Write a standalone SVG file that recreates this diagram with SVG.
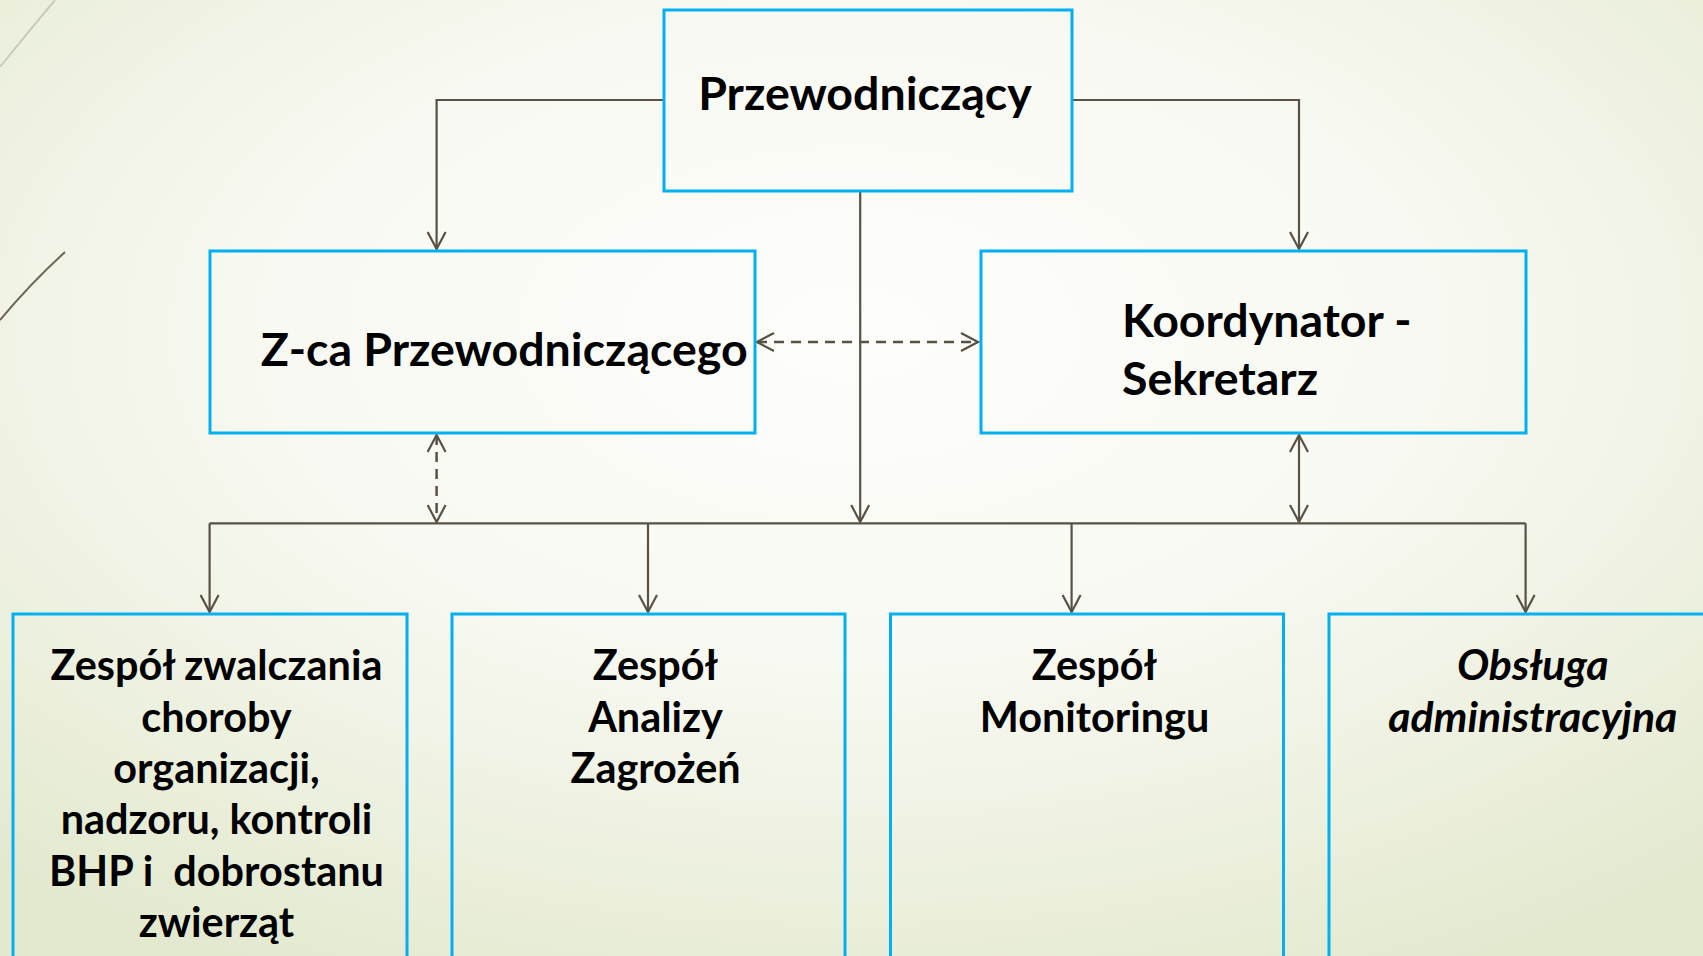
<svg xmlns="http://www.w3.org/2000/svg" width="1703" height="956" viewBox="0 0 1703 956">
  <defs>
    <radialGradient id="bg" cx="0.5" cy="0.35" r="0.75" gradientUnits="objectBoundingBox">
      <stop offset="0" stop-color="#fdfdfb"/>
      <stop offset="0.45" stop-color="#f8f9f2"/>
      <stop offset="1" stop-color="#e3e9cf"/>
    </radialGradient>
    <marker id="arr" viewBox="0 0 20 20" refX="18" refY="10" markerWidth="20" markerHeight="20" markerUnits="userSpaceOnUse" orient="auto-start-reverse">
      <path d="M1,1 L18,10 L1,19" fill="none" stroke="#595244" stroke-width="2.2"/>
    </marker>
    <style>
      .box { fill: none; stroke: #00b0f0; stroke-width: 3; }
      .con { fill: none; stroke: #595244; stroke-width: 2.2; }
      .dash { fill: none; stroke: #595244; stroke-width: 2.5; stroke-dasharray: 10 7; }
      .t { font-family: Lato, "Noto Sans", sans-serif; font-weight: bold; fill: #000; }
      .big { font-size: 46.5px; }
      .sm { font-size: 41.4px; }
      .c { text-anchor: middle; }
      .it { font-style: italic; font-size: 42.8px; }
    </style>
  </defs>
  <rect x="0" y="0" width="1703" height="956" fill="url(#bg)"/>
  <g id="decor">
    <path d="M55,0 Q28,32 0,67" fill="none" stroke="#c9cbbd" stroke-width="2"/>
    <path d="M65,252 Q30,284 0,320" fill="none" stroke="#6e6757" stroke-width="2"/>
  </g>

  <g id="connectors">
    <path class="con" d="M664,100 H436.6 V249" marker-end="url(#arr)"/>
    <path class="con" d="M1072,100 H1299 V249" marker-end="url(#arr)"/>
    <path class="con" d="M860.2,191 V522" marker-end="url(#arr)"/>
    <path class="dash" d="M757,342 H978" marker-start="url(#arr)" marker-end="url(#arr)"/>
    <path class="dash" d="M436.6,435 V522" marker-start="url(#arr)" marker-end="url(#arr)"/>
    <path class="con" d="M1299,435 V522" marker-start="url(#arr)" marker-end="url(#arr)"/>
    <path class="con" d="M209.6,523.3 H1525.6"/>
    <path class="con" d="M209.6,523.3 V612" marker-end="url(#arr)"/>
    <path class="con" d="M648,523.3 V612" marker-end="url(#arr)"/>
    <path class="con" d="M1071.6,523.3 V612" marker-end="url(#arr)"/>
    <path class="con" d="M1525.6,523.3 V612" marker-end="url(#arr)"/>
  </g>

  <g id="przewodniczacy">
    <rect class="box" x="664" y="10" width="408" height="181"/>
    <text class="t big c" x="865" y="110">Przewodniczący</text>
  </g>
  <g id="zca">
    <rect class="box" x="210" y="251" width="545" height="182"/>
    <text class="t big" x="260.7" y="365.5">Z-ca Przewodniczącego</text>
  </g>
  <g id="koordynator">
    <rect class="box" x="981" y="251" width="545" height="182"/>
    <text class="t big" x="1122" y="337">Koordynator -</text>
    <text class="t big" x="1122" y="395">Sekretarz</text>
  </g>
  <g id="zespol-zwalczania">
    <rect class="box" x="13" y="614" width="394" height="360"/>
    <text class="t sm c" x="216.5" y="680">Zespół zwalczania</text>
    <text class="t sm c" x="216.5" y="731.5">choroby</text>
    <text class="t sm c" x="216.5" y="783">organizacji,</text>
    <text class="t sm c" x="216.5" y="834">nadzoru, kontroli</text>
    <text class="t sm c" x="216.5" y="885.5" xml:space="preserve">BHP i  dobrostanu</text>
    <text class="t sm c" x="216.5" y="937">zwierząt</text>
  </g>
  <g id="zespol-analizy">
    <rect class="box" x="452" y="614" width="393" height="360"/>
    <text class="t sm c" x="655.5" y="680">Zespół</text>
    <text class="t sm c" x="655.5" y="731.5">Analizy</text>
    <text class="t sm c" x="655.5" y="783">Zagrożeń</text>
  </g>
  <g id="zespol-monitoringu">
    <rect class="box" x="890.5" y="614" width="393" height="360"/>
    <text class="t sm c" x="1094.5" y="680">Zespół</text>
    <text class="t sm c" x="1094.5" y="731.5">Monitoringu</text>
  </g>
  <g id="obsluga">
    <rect class="box" x="1329" y="614" width="393" height="360"/>
    <text class="t c it" x="1532.8" y="680">Obsługa</text>
    <text class="t c it" x="1532.8" y="731.5">administracyjna</text>
  </g>
</svg>
